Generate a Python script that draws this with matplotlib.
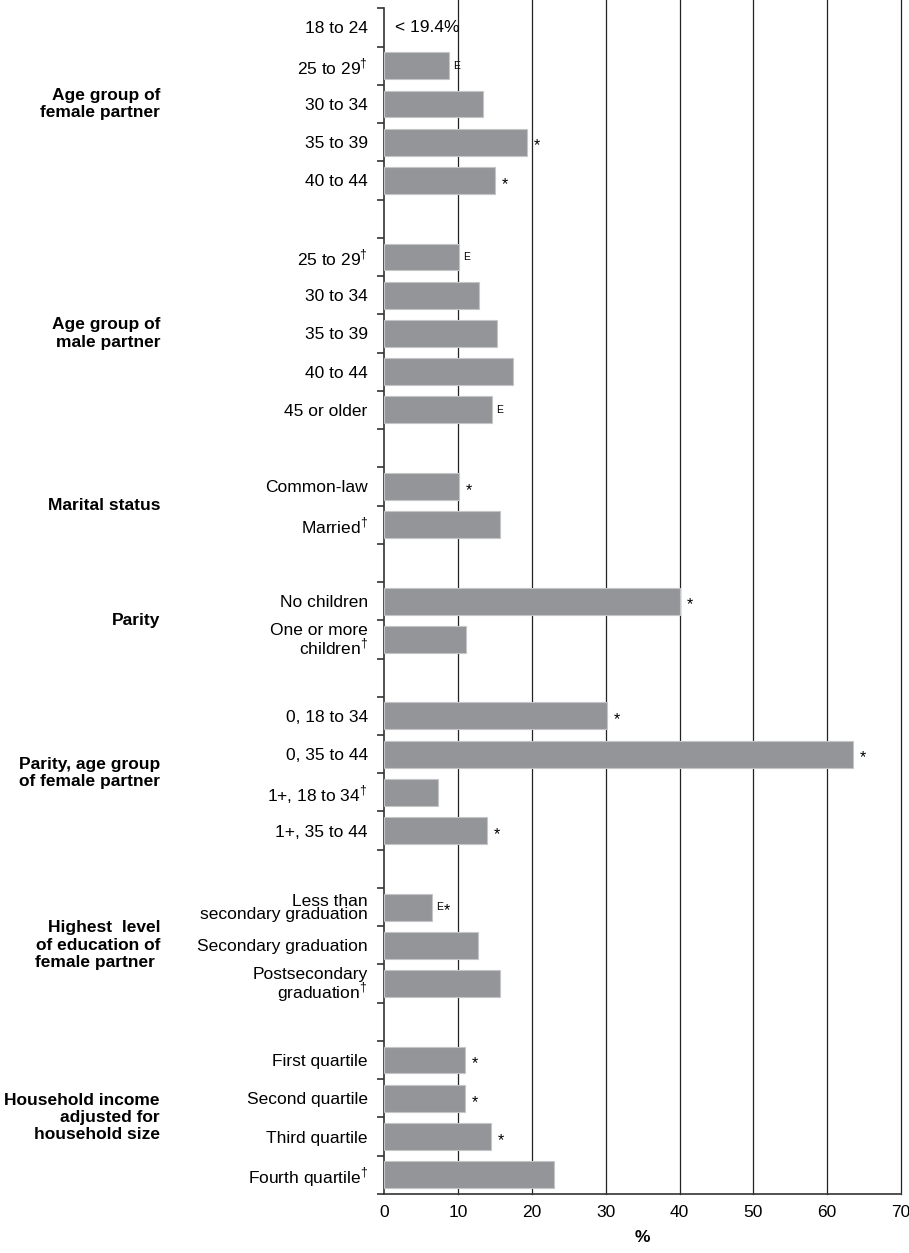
import matplotlib
matplotlib.use("Agg")
import matplotlib.pyplot as plt
import matplotlib.transforms as mtransforms
from matplotlib import rcParams

rcParams["font.family"] = ["Liberation Sans Narrow", "Liberation Sans", "DejaVu Sans"]
rcParams["mathtext.fontset"] = "custom"
rcParams["mathtext.rm"] = "Liberation Sans"

# rows from top to bottom, None = gap between groups
labels = [
    "18 to 24", "25 to 29$^{†}$", "30 to 34", "35 to 39", "40 to 44", None,
    "25 to 29$^{†}$", "30 to 34", "35 to 39", "40 to 44", "45 or older", None,
    "Common-law", "Married$^{†}$", None,
    "No children", "One or more\nchildren$^{†}$", None,
    "0, 18 to 34", "0, 35 to 44", "1+, 18 to 34$^{†}$", "1+, 35 to 44", None,
    "Less than\nsecondary graduation", "Secondary graduation", "Postsecondary\ngraduation$^{†}$", None,
    "First quartile", "Second quartile", "Third quartile", "Fourth quartile$^{†}$",
]
values = [
    None, 8.8, 13.4, 19.3, 15.0, None,
    10.1, 12.8, 15.3, 17.4, 14.6, None,
    10.1, 15.7, None,
    40.1, 11.1, None,
    30.2, 63.5, 7.3, 13.9, None,
    6.4, 12.7, 15.7, None,
    10.9, 10.9, 14.4, 23.0,
]
flags_e = [
    "", "E", "", "", "", "",
    "E", "", "", "", "E", "",
    "", "", "",
    "", "", "",
    "", "", "", "", "",
    "E", "", "", "",
    "", "", "", "",
]
flags_star = [
    "", "", "", "*", "*", "",
    "", "", "", "", "", "",
    "*", "", "",
    "*", "", "",
    "*", "*", "", "*", "",
    "*", "", "", "",
    "*", "*", "*", "",
]
groups = [
    ("Age group of\nfemale partner", 2),
    ("Age group of\nmale partner", 8),
    ("Marital status", 12.5),
    ("Parity", 15.5),
    ("Parity, age group\nof female partner", 19.5),
    ("Highest  level\nof education of\nfemale partner ", 24),
    ("Household income\nadjusted for\nhousehold size", 28.5),
]
suppressed_note = "< 19.4%"

n = len(labels)
fig = plt.figure(figsize=(9.09, 12.53), dpi=100)
ax = fig.add_axes([0.4228, 0.0471, 0.5684, 0.9463])

ys = [i for i in range(n) if values[i] is not None]
ax.barh(ys, [values[i] for i in ys], height=0.7, color="#939598",
        edgecolor="#c4c5c7", linewidth=0.8, zorder=3)

for i in ys:
    dx = 3
    if flags_e[i]:
        ax.annotate(flags_e[i], (values[i], i), xytext=(dx, 0), textcoords="offset points",
                    ha="left", va="center", fontsize=7.5, family=["Liberation Sans", "DejaVu Sans"])
        dx += 4
    if flags_star[i]:
        ax.annotate("*", (values[i], i + 0.1), xytext=(dx + 2, 0), textcoords="offset points",
                    ha="left", va="center", fontsize=11.5, family=["Liberation Sans", "DejaVu Sans"])

ax.text(1.4, 0, suppressed_note, ha="left", va="center", fontsize=12.5)

ax.set_ylim(n - 0.5, -0.5)
ax.set_xlim(0, 70)
ax.set_xticks(range(0, 71, 10))
ax.tick_params(axis="x", length=0, labelsize=12.5, pad=8)

ax.set_yticks([i for i in range(n) if labels[i] is not None])
ax.set_yticklabels([l for l in labels if l is not None], fontsize=12.5, linespacing=0.9)
ax.tick_params(axis="y", which="major", length=0, pad=12)
ax.set_yticks([i - 0.5 for i in range(n + 1)], minor=True)
ax.tick_params(axis="y", which="minor", length=5, width=1.2, color="#333333")

for x in range(10, 71, 10):
    ax.axvline(x, ymax=1.007, color="#222222", linewidth=0.9, zorder=1, clip_on=False)

ax.spines["top"].set_visible(False)
ax.spines["right"].set_visible(False)
ax.spines["left"].set_color("#333333")
ax.spines["left"].set_linewidth(1.2)
ax.spines["bottom"].set_color("#333333")
ax.spines["bottom"].set_linewidth(1.2)

ax.set_xlabel("%", fontsize=12.5, fontweight="bold", labelpad=7)

trans = mtransforms.blended_transform_factory(fig.transFigure, ax.transData)
for text, y in groups:
    ax.text(160 / 909, y, text, transform=trans, ha="right", va="center",
            fontsize=12.5, fontweight="bold", linespacing=1.2, multialignment="right")

fig.savefig("out.png", dpi=100)
